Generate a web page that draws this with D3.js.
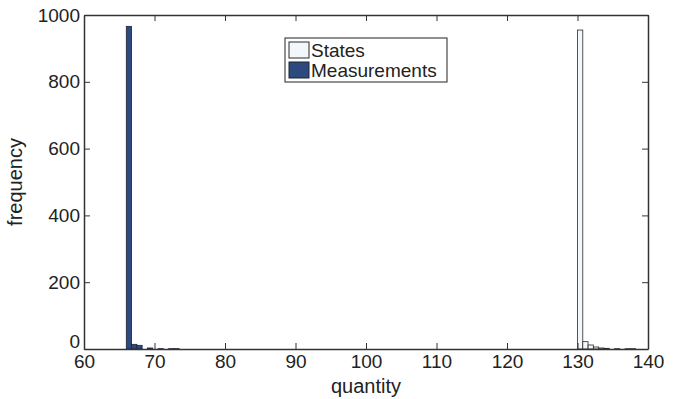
<!DOCTYPE html>
<html>
<head>
<meta charset="utf-8">
<script src="https://cdn.jsdelivr.net/npm/d3@7"></script>
<style>
  body { margin: 0; background: #fff; }
  text { font-family: "Liberation Sans", Arial, sans-serif; fill: #222; }
</style>
</head>
<body>
<svg></svg>
<script>
// histogram bins (left edges) and counts
var measBins = [66, 66.75, 67.5, 68.25, 69, 69.75, 70.5, 71.25, 72, 72.75];
var measCounts = [966, 14, 11, 0, 3, 0, 1, 0, 1, 1];
var stateBins = [130, 130.75, 131.5, 132.25, 133, 133.75, 134.5, 135.25, 136, 136.75, 137.5];
var stateCounts = [955, 22, 12, 6, 3, 2, 0, 1, 0, 1, 1];
var binWidth = 0.75;

var xTicks = [60, 70, 80, 90, 100, 110, 120, 130, 140];
var yTicks = [0, 200, 400, 600, 800, 1000];

// set the dimensions and margins of the graph
var margin = {top: 15, right: 34, bottom: 50, left: 84},
    width = 682 - margin.left - margin.right,
    height = 399 - margin.top - margin.bottom;

var svg = d3.select("svg")
  .attr("width", 682)
  .attr("height", 399)
  .append("g")
  .attr("transform", "translate(" + margin.left + "," + margin.top + ")");

var x = d3.scaleLinear().domain([60, 140]).range([0, width]);
var y = d3.scaleLinear().domain([0, 1000]).range([height, 0]);

var meas = measBins.map(function(b, i) { return {x0: b, n: measCounts[i]}; });
var states = stateBins.map(function(b, i) { return {x0: b, n: stateCounts[i]}; });

function drawBars(data, fill, stroke) {
  svg.append("g")
    .selectAll("rect")
    .data(data.filter(function(d) { return d.n > 0; }))
    .enter()
    .append("rect")
    .attr("x", function(d) { return x(d.x0); })
    .attr("width", function(d) { return x(d.x0 + binWidth) - x(d.x0); })
    .attr("y", function(d) { return y(d.n); })
    .attr("height", function(d) { return y(0) - y(d.n); })
    .attr("fill", fill)
    .attr("stroke", stroke)
    .attr("stroke-width", 0.8);
}

drawBars(states, "#f2f7fc", "#2a2a2a");
drawBars(meas, "#2d4a7e", "#1d2433");

// axes, ticks pointing inwards (box style)
var axisColor = "#333";
var axBottom = svg.append("g")
  .attr("transform", "translate(0," + height + ")")
  .call(d3.axisBottom(x).tickValues(xTicks).tickSizeInner(-6).tickSizeOuter(0).tickPadding(6));
var axTop = svg.append("g")
  .call(d3.axisTop(x).tickValues(xTicks).tickSizeInner(-6).tickSizeOuter(0).tickFormat(""));
var axLeft = svg.append("g")
  .call(d3.axisLeft(y).tickValues(yTicks).tickFormat(d3.format("d")).tickSizeInner(-6).tickSizeOuter(0).tickPadding(4));
var axRight = svg.append("g")
  .attr("transform", "translate(" + width + ",0)")
  .call(d3.axisRight(y).tickValues(yTicks).tickSizeInner(-6).tickSizeOuter(0).tickFormat(""));

[axBottom, axTop, axLeft, axRight].forEach(function(a) {
  a.selectAll("path").attr("stroke", axisColor).attr("stroke-width", 1.5);
  a.selectAll("line").attr("stroke", axisColor).attr("stroke-width", 1);
  a.selectAll("text")
    .style("font-family", "'Liberation Sans', Arial, sans-serif")
    .style("font-size", "19px")
    .attr("fill", "#222");
});
// the zero label sits a little high, as in the original, so it clears "60"
axLeft.selectAll(".tick text").filter(function(d) { return d === 0; }).attr("dy", "-0.1em");

// axis labels
svg.append("text")
  .attr("x", width / 2)
  .attr("y", height + 44)
  .attr("text-anchor", "middle")
  .style("font-size", "20px")
  .text("quantity");

svg.append("text")
  .attr("transform", "rotate(-90)")
  .attr("x", -height / 2)
  .attr("y", -62)
  .attr("text-anchor", "middle")
  .style("font-size", "20px")
  .text("frequency");

// legend
var lg = svg.append("g").attr("transform", "translate(" + (285 - margin.left) + "," + (38 - margin.top) + ")");
lg.append("rect")
  .attr("width", 162).attr("height", 44)
  .attr("fill", "#fff").attr("stroke", "#222").attr("stroke-width", 1);
var items = [
  {label: "States", fill: "#f2f7fc", stroke: "#2a2a2a"},
  {label: "Measurements", fill: "#2d4a7e", stroke: "#1d2433"}
];
items.forEach(function(d, i) {
  lg.append("rect")
    .attr("x", 4).attr("y", 4 + i * 20)
    .attr("width", 20).attr("height", 16)
    .attr("fill", d.fill).attr("stroke", d.stroke);
  lg.append("text")
    .attr("x", 26).attr("y", 19 + i * 20)
    .style("font-size", "19px")
    .text(d.label);
});
</script>
</body>
</html>
